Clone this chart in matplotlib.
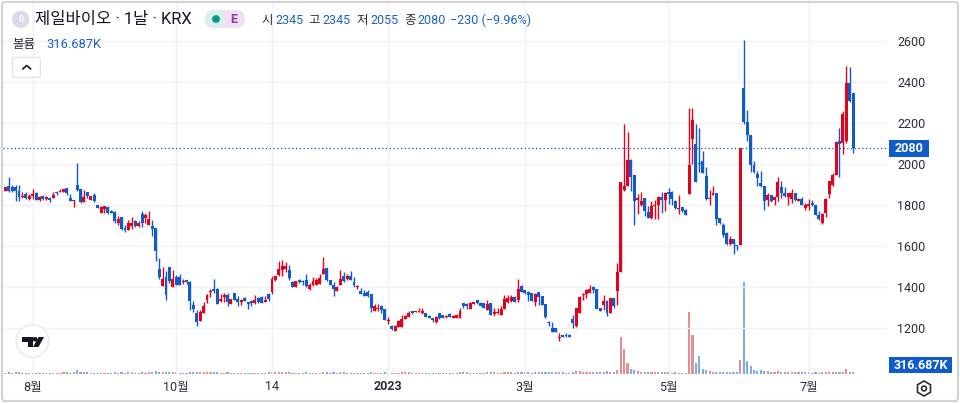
import numpy as np
import matplotlib
matplotlib.use('Agg')
import matplotlib.pyplot as plt
from matplotlib.patches import Circle, FancyBboxPatch, Polygon, Rectangle

plt.rcParams['font.family'] = ['Roboto', 'Noto Sans CJK KR', 'DejaVu Sans']

# daily candles, R = up day, B = down day
highs = [
    1890,1935,1900,1900,1900,1865,1865,1855,1880,1865,
    1845,1850,1845,1840,1865,1870,1880,1880,1885,1855,
    1825,2005,1880,1875,1865,1845,1860,1800,1795,1795,
    1795,1775,1770,1745,1740,1705,1725,1740,1725,1720,
    1770,1760,1770,1725,1690,1540,1500,1480,1500,1485,
    1460,1465,1440,1435,1430,1330,1290,1290,1325,1365,
    1390,1440,1395,1365,1370,1370,1340,1370,1355,1340,
    1350,1325,1335,1360,1350,1355,1355,1370,1455,1455,
    1525,1530,1520,1510,1430,1430,1440,1435,1465,1420,
    1450,1445,1465,1545,1495,1435,1425,1405,1485,1475,
    1465,1480,1450,1410,1395,1385,1385,1365,1315,1315,
    1310,1295,1255,1215,1215,1240,1265,1265,1285,1285,
    1285,1300,1300,1275,1265,1250,1260,1275,1265,1265,
    1275,1265,1270,1300,1320,1320,1325,1325,1335,1325,
    1320,1335,1320,1300,1300,1305,1360,1360,1360,1355,
    1440,1410,1385,1380,1370,1370,1375,1355,1315,1235,
    1230,1200,1175,1165,1175,1170,1265,1300,1355,1370,
    1390,1410,1405,1390,1300,1360,1335,1345,1345,1515,
    1915,2195,2155,2025,1945,1855,1865,1835,1795,1820,
    1825,1845,1865,1865,1885,1870,1825,1850,1790,1780,
    2275,2275,2195,2175,2065,1985,1875,1895,1860,1735,
    1715,1670,1650,1635,1605,2080,2605,2265,2140,2015,
    1965,1965,1895,1860,1850,1845,1935,1920,1890,1860,
    1880,1860,1835,1840,1810,1830,1825,1800,1770,1760,
    1835,1920,1955,2110,2175,2260,2480,2475,2345]
body_tops = [
    1890,1895,1890,1890,1870,1845,1855,1845,1855,1860,
    1840,1845,1840,1835,1850,1865,1870,1880,1885,1835,
    1825,1900,1880,1840,1865,1845,1850,1800,1790,1795,
    1790,1770,1765,1730,1740,1690,1715,1715,1720,1715,
    1755,1750,1730,1700,1690,1490,1440,1450,1500,1440,
    1450,1450,1430,1435,1425,1310,1275,1280,1305,1360,
    1380,1390,1390,1340,1360,1360,1340,1370,1340,1335,
    1345,1325,1330,1335,1345,1350,1335,1365,1440,1455,
    1490,1505,1505,1485,1425,1430,1435,1430,1435,1410,
    1430,1435,1445,1490,1495,1435,1410,1400,1440,1455,
    1455,1455,1425,1405,1380,1370,1375,1365,1305,1300,
    1305,1295,1240,1210,1210,1235,1245,1260,1275,1285,
    1285,1285,1285,1275,1260,1250,1255,1275,1265,1260,
    1270,1260,1265,1285,1320,1315,1320,1325,1335,1320,
    1320,1315,1320,1280,1280,1295,1340,1345,1350,1350,
    1390,1405,1385,1375,1370,1365,1375,1355,1315,1230,
    1200,1200,1155,1165,1165,1165,1245,1300,1350,1365,
    1385,1390,1400,1390,1300,1330,1330,1345,1345,1475,
    1915,1895,2020,2020,1945,1835,1820,1835,1765,1795,
    1800,1840,1840,1860,1865,1865,1820,1785,1790,1775,
    1995,2215,2100,2005,2015,1940,1835,1860,1860,1735,
    1705,1665,1635,1635,1605,2080,2370,2205,2140,1995,
    1950,1910,1895,1850,1850,1840,1915,1890,1860,1860,
    1860,1860,1830,1830,1800,1805,1810,1800,1750,1755,
    1830,1920,1945,2110,2115,2245,2395,2395,2345]
body_bottoms = [
    1870,1870,1870,1870,1840,1840,1835,1830,1845,1825,
    1825,1830,1830,1825,1835,1860,1865,1865,1860,1820,
    1820,1875,1815,1815,1845,1825,1820,1785,1760,1780,
    1760,1760,1720,1715,1685,1680,1680,1700,1700,1700,
    1715,1735,1705,1685,1575,1450,1405,1360,1430,1400,
    1410,1410,1425,1425,1330,1295,1230,1235,1275,1335,
    1375,1380,1315,1330,1350,1325,1315,1335,1325,1325,
    1330,1315,1320,1320,1325,1320,1335,1340,1375,1435,
    1460,1485,1490,1445,1400,1400,1425,1425,1405,1390,
    1410,1410,1415,1465,1435,1410,1390,1380,1410,1430,
    1440,1435,1410,1400,1365,1355,1355,1300,1285,1295,
    1290,1240,1235,1195,1185,1205,1205,1245,1255,1275,
    1280,1280,1275,1255,1250,1240,1230,1250,1250,1255,
    1255,1250,1250,1250,1305,1310,1295,1320,1320,1305,
    1300,1290,1265,1270,1275,1265,1295,1325,1330,1325,
    1335,1375,1370,1360,1330,1325,1350,1310,1255,1225,
    1180,1180,1150,1155,1160,1155,1225,1210,1275,1360,
    1365,1370,1385,1295,1285,1310,1275,1275,1305,1380,
    1475,1875,1895,1935,1820,1825,1800,1770,1735,1735,
    1795,1800,1825,1825,1855,1830,1785,1780,1770,1750,
    1855,2125,1915,2000,1955,1830,1830,1850,1730,1715,
    1655,1610,1610,1610,1600,1605,2205,2140,1995,1960,
    1930,1895,1820,1825,1820,1825,1840,1860,1845,1840,
    1830,1825,1820,1800,1785,1795,1800,1750,1730,1715,
    1760,1855,1900,1945,2100,2105,2115,2310,2080]
lows = [
    1870,1865,1865,1820,1820,1835,1830,1825,1830,1825,
    1820,1825,1825,1815,1835,1850,1865,1865,1850,1820,
    1790,1870,1810,1815,1835,1825,1815,1785,1760,1760,
    1755,1760,1715,1705,1680,1670,1680,1685,1695,1695,
    1695,1715,1705,1650,1525,1440,1405,1335,1420,1400,
    1410,1410,1415,1415,1290,1280,1210,1235,1275,1320,
    1350,1370,1315,1325,1325,1305,1315,1335,1305,1310,
    1330,1295,1305,1315,1320,1320,1325,1330,1365,1430,
    1455,1455,1475,1435,1400,1400,1420,1410,1400,1385,
    1405,1410,1415,1465,1430,1410,1355,1380,1410,1425,
    1435,1435,1400,1390,1365,1355,1350,1280,1285,1285,
    1275,1240,1220,1190,1185,1205,1205,1245,1255,1270,
    1280,1280,1270,1255,1250,1230,1225,1245,1250,1250,
    1255,1250,1250,1250,1300,1295,1295,1315,1315,1305,
    1300,1290,1265,1260,1270,1265,1295,1320,1325,1325,
    1325,1375,1365,1330,1330,1305,1310,1310,1250,1210,
    1180,1180,1135,1155,1155,1155,1200,1205,1275,1335,
    1345,1370,1370,1295,1285,1290,1260,1275,1300,1310,
    1475,1870,1895,1870,1705,1755,1795,1745,1735,1730,
    1730,1730,1760,1770,1805,1800,1780,1755,1765,1750,
    1855,2000,1915,1960,1955,1825,1800,1850,1705,1710,
    1645,1605,1605,1560,1580,1605,2195,2115,1960,1955,
    1895,1890,1775,1795,1815,1800,1820,1835,1840,1800,
    1810,1820,1820,1800,1775,1775,1795,1750,1725,1710,
    1740,1835,1895,1945,1935,2050,2105,2305,2055]
directions = (
    'RBBBBRBRRB' 'RBRBRBRRBB' 'RBBRBRBBRR' 'BBBRBBRRBR' 'BRRBBBRBBR'
    'BBRBBBBRRR' 'RBBRRBRBBR' 'BBBRBBRBRR' 'RRRBBRBBBR' 'RRRRBBBRRB'
    'RBBRBBBBRR' 'BBRBRRRRRB' 'RRRBBBRBBR' 'BRRRBBRRBB' 'BRBRRRRRRB'
    'RBBBBRBBBB' 'BBRBBBBRRR' 'RRBBBRBRBR' 'RRRBBRRBBR' 'RRBRBBBRBB'
    'RRBBBBRRBB' 'BBRBBRBBBB' 'BBBRBRRBBR' 'RBRBRRBBBR' 'RRRRBRRBB')
# volume in thousands of shares
volumes = [
    210,230,190,260,220,170,180,190,210,200,
    180,170,190,160,190,200,210,230,220,180,
    330,700,380,260,220,190,200,180,210,190,
    170,160,230,210,240,190,230,220,180,190,
    240,210,220,230,430,420,330,360,340,240,
    220,210,170,180,410,280,340,260,270,260,
    220,230,240,200,210,220,190,180,170,180,
    190,200,190,210,180,190,200,230,420,380,
    390,300,260,250,200,190,180,170,220,190,
    200,190,210,360,280,210,220,180,260,220,
    190,210,200,170,190,170,180,260,200,170,
    190,240,180,200,180,200,230,220,260,170,
    160,170,180,190,170,170,200,180,160,150,
    170,160,180,260,300,220,200,190,210,200,
    190,240,230,220,200,210,310,250,230,210,
    360,260,230,240,210,220,230,220,280,300,
    280,230,310,240,190,200,380,500,460,330,
    340,300,260,380,260,290,480,420,360,780,
    7700,5200,2250,990,780,480,270,250,240,220,
    250,230,240,220,260,210,230,200,190,170,
    13000,8100,2250,3700,990,780,570,420,300,270,
    290,250,230,240,250,2900,19300,2650,1600,840,
    630,780,500,430,360,330,470,330,290,260,
    380,290,240,260,300,220,200,260,210,240,
    310,370,350,390,340,420,990,420,316.687]

date_ticks = [8, 50, 78, 112, 152, 194, 235]
date_labels = ['8월', '10월', '14', '2023', '3월', '5월', '7월']
price_ticks = [1200, 1400, 1600, 1800, 2000, 2200, 2400, 2600]
last_close = 2080

RED = '#e6001a'
BLUE = '#0f5bcb'
RED_VOL = '#e58f92'
BLUE_VOL = '#7eaae6'
TEXT = '#2a2e39'
LINK = '#1c62c4'
GRID = '#eff1f6'

W, H = 960, 404
fig = plt.figure(figsize=(W / 100, H / 100), dpi=100)

# pane goes from x=3..887, y=4..376 in pixels
ax = fig.add_axes([3 / W, 1 - 376 / H, 884 / W, 372 / H])
ax.set_xlim(-0.68, 257.9)
ax.set_ylim(965.6, 2782)
for s in ax.spines.values():
    s.set_visible(False)
ax.set_xticks(date_ticks)
ax.set_yticks(price_ticks)
ax.set_xticklabels([])
ax.set_yticklabels([])
ax.tick_params(length=0)
ax.grid(True, color=GRID, lw=1)
ax.set_axisbelow(True)

x = np.arange(len(highs))
ups = np.array([d == 'R' for d in directions])
colors = [RED if u else BLUE for u in ups]
vol_colors = [RED_VOL if u else BLUE_VOL for u in ups]

# volume on its own scale, sharing the pane
vax = ax.twinx()
vax.set_ylim(-525, 77600)
vax.axis('off')
vax.bar(x, volumes, width=0.62, color=vol_colors, lw=0, zorder=1)

tops = np.array(body_tops, dtype=float)
bots = np.array(body_bottoms, dtype=float)
heights = np.maximum(tops - bots, 6)
vax.set_zorder(1)
ax.set_zorder(2)
ax.patch.set_visible(False)
ax.vlines(x, lows, highs, colors=colors, lw=1.0, zorder=3)
ax.bar(x, heights, bottom=tops - heights, width=0.86, color=colors, lw=0, zorder=4)
ax.axhline(last_close, color='#1b57a6', lw=0.9, ls=(0, (1, 2)), zorder=5)

# everything around the pane, drawn in pixel coordinates
ov = fig.add_axes([0, 0, 1, 1])
ov.set_xlim(0, W)
ov.set_ylim(H, 0)
ov.axis('off')
ov.patch.set_alpha(0)
ov.set_zorder(5)

ov.add_patch(FancyBboxPatch((2, 2), W - 4, H - 5, boxstyle='round,pad=0,rounding_size=3',
                            fc='none', ec='#d4d4d4', lw=1.6))

for v in price_ticks:
    yp = 42.3 + (2600 - v) * 0.2048
    ov.text(897, yp, str(v), fontsize=9, color=TEXT, va='center', ha='left')
for t, lab in zip(date_ticks, date_labels):
    ov.text(5.33 + 3.419 * t, 387, lab, fontsize=9, color=TEXT, ha='center', va='center',
            fontweight='bold' if lab == '2023' else 'normal')

ov.add_patch(Rectangle((889, 140), 39.5, 17, fc=BLUE, ec='none'))
ov.text(908.7, 149, str(last_close), fontsize=9, color='white', fontweight='bold', ha='center', va='center')
ov.add_patch(Rectangle((889, 357), 63, 16, fc=BLUE, ec='none'))
ov.text(920.5, 365.2, '316.687K', fontsize=9, color='white', fontweight='bold', ha='center', va='center')

# legend row
ov.add_patch(Circle((20.7, 19.3), 8.7, fc='#d9dce8', ec='none'))
ov.text(20.7, 19.3, '0', fontsize=6.5, color='white', ha='center', va='center', fontweight='bold')
ov.text(35, 19.5, '제일바이오 · 1날 · KRX', fontsize=11.9, color='#131722', va='center')
ov.add_patch(FancyBboxPatch((205, 10), 40, 18, boxstyle='round,pad=0,rounding_size=9', fc='#f0def3', ec='none'))
ov.add_patch(FancyBboxPatch((205, 10), 20, 18, boxstyle='round,pad=0,rounding_size=9', fc='#d9f0ec', ec='none'))
ov.add_patch(Circle((216, 19), 3.9, fc='#089981', ec='none'))
ov.text(234, 19.2, 'E', fontsize=9, color='#8e3fa6', fontweight='bold', ha='center', va='center')

for xp, txt, col in [(261.7, '시', TEXT), (275, '2345', LINK), (308.3, '고', TEXT), (322.3, '2345', LINK),
                     (356, '저', TEXT), (370, '2055', LINK), (404, '종', TEXT), (417.3, '2080', LINK),
                     (450, '−230 (−9.96%)', LINK)]:
    ov.text(xp, 20.3, txt, fontsize=9, color=col, va='center')
ov.text(12.7, 44.5, '볼륨', fontsize=9, color=TEXT, va='center')
ov.text(46, 44.5, '316.687K', fontsize=9.3, color=LINK, va='center')

# collapse button
ov.add_patch(FancyBboxPatch((12.3, 57.3), 28, 20, boxstyle='round,pad=0,rounding_size=2', fc='white', ec='#dfe2e8', lw=0.9))
ov.plot([22.7, 26.7, 30.7], [69, 65.5, 69], color='#131722', lw=1.2, solid_capstyle='round')

# tradingview badge
ov.add_patch(Circle((32.5, 341), 16.3, fc='white', ec='#e6e8ee', lw=1))
ov.add_patch(Polygon([(22, 337), (33, 337), (33, 347), (28, 347), (28, 342), (22, 342)], fc='#131722', ec='none'))
ov.add_patch(Circle((35, 339.2), 2.3, fc='#131722', ec='none'))
ov.add_patch(Polygon([(38.5, 337), (44, 337), (38.5, 347), (33, 347)], fc='#131722', ec='none'))

# settings icon
ang = np.radians(np.arange(30, 390, 60))
ov.add_patch(Polygon(np.c_[924 + 7.5 * np.cos(ang), 388.5 + 7.5 * np.sin(ang)], fc='none', ec='#2a2e39', lw=1.2))
ov.add_patch(Circle((924, 388.5), 2.4, fc='none', ec='#2a2e39', lw=1.2))

fig.savefig('out.png', dpi=100, facecolor='white')
